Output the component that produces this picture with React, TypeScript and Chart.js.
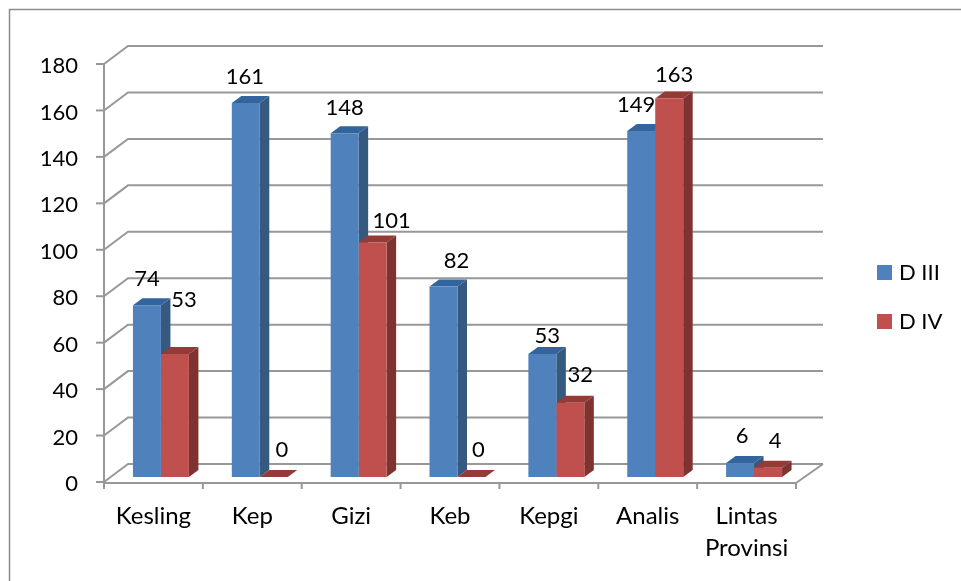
import React, { useEffect, useRef } from "react";
import { Chart, registerables } from "chart.js";

Chart.register(...registerables);

const categories = ["Kesling", "Kep", "Gizi", "Keb", "Kepgi", "Analis", ["Lintas", "Provinsi"]];
const d3Values = [74, 161, 148, 82, 53, 149, 6];
const d4Values = [53, 0, 101, 0, 32, 163, 4];
const seriesNames = ["D III", "D IV"];

const FONT = "Lato, 'Open Sans', sans-serif";
const FONT_SIZE = 22;
const CATEGORY_FONT_SIZE = 24;
const FRONT = ["#4F81BD", "#C0504D"];
const SIDE = ["#36597F", "#7E3331"];
const TOP = ["#34649C", "#943A37"];
const GRID = "#989898";

// label nudges relative to each bar's front-top centre
const labelNudge = [
  [[0, -26], [-1, -26], [0, -25], [13, -26], [5, -18], [-5, -26], [2, -27]],
  [[9, -54], [8, -27], [19, -22], [7, -27], [10, -28], [5, -24], [7, -27]],
];

const SHIFT_X = 7.5;
const SHIFT_Y = -5;
const DEPTH_X = 9.5;
const DEPTH_Y = 7;
const Y_LABEL_DROP = 2;

const poly = (ctx: CanvasRenderingContext2D, pts: number[][], fill: string) => {
  ctx.fillStyle = fill;
  ctx.beginPath();
  pts.forEach(([x, y], i) => (i ? ctx.lineTo(x, y) : ctx.moveTo(x, y)));
  ctx.closePath();
  ctx.fill();
};

const line = (ctx: CanvasRenderingContext2D, pts: number[][]) => {
  ctx.beginPath();
  pts.forEach(([x, y], i) => (i ? ctx.lineTo(x, y) : ctx.moveTo(x, y)));
  ctx.stroke();
};

const scene3d = {
  id: "scene3d",
  beforeDraw(chart: any) {
    const { ctx } = chart;
    chart.scales.y.getLabelItems().forEach((item: any) => {
      if (!item.dropped) {
        item.dropped = true;
        const [x, y] = item.options.translation;
        item.options.translation = [x, y + Y_LABEL_DROP];
      }
    });
    ctx.save();
    ctx.strokeStyle = "#8C8C8C";
    ctx.lineWidth = 1.5;
    line(ctx, [[9.5, 581], [9.5, 9.5], [961, 9.5]]);
    ctx.restore();
  },
  beforeDatasetsDraw(chart: any) {
    const { ctx, chartArea, scales } = chart;
    const { left, right, bottom } = chartArea;
    ctx.save();
    ctx.strokeStyle = GRID;
    ctx.lineWidth = 2;
    scales.y.ticks.forEach((t: any) => {
      const y = scales.y.getPixelForValue(t.value);
      line(ctx, [[left, y], [left + 24, y - 18], [right + 27, y - 18]]);
      line(ctx, [[left - 8, y], [left, y]]);
    });
    line(ctx, [[right, bottom + 1], [right + 27, bottom - 18]]);
    line(ctx, [[left, scales.y.top], [left, bottom + 1]]);
    line(ctx, [[left - 1, bottom + 1], [right, bottom + 1]]);
    categories.forEach((_, i) => {
      const half = (scales.x.getPixelForValue(1) - scales.x.getPixelForValue(0)) / 2;
      const x = scales.x.getPixelForValue(i) - half;
      line(ctx, [[x, bottom + 1], [x, bottom + 7]]);
    });
    line(ctx, [[right, bottom + 1], [right, bottom + 7]]);

    ctx.translate(SHIFT_X, SHIFT_Y);
    [0, 1].forEach((di) => {
      chart.getDatasetMeta(di).data.forEach((bar: any) => {
        const { x, y, base, width } = bar.getProps(["x", "y", "base", "width"], true);
        const x0 = x - width / 2;
        const x1 = x + width / 2;
        poly(ctx, [[x1, y], [x1 + DEPTH_X, y - DEPTH_Y], [x1 + DEPTH_X, base - DEPTH_Y], [x1, base]], SIDE[di]);
        poly(ctx, [[x0, y], [x1, y], [x1 + DEPTH_X, y - DEPTH_Y], [x0 + DEPTH_X, y - DEPTH_Y]], TOP[di]);
      });
    });
    ctx.restore();
  },
  beforeDatasetDraw(chart: any) {
    chart.ctx.save();
    chart.ctx.translate(SHIFT_X, SHIFT_Y);
  },
  afterDatasetDraw(chart: any) {
    chart.ctx.restore();
  },
  afterDatasetsDraw(chart: any) {
    const { ctx } = chart;
    ctx.save();
    ctx.fillStyle = "#000000";
    ctx.font = `${FONT_SIZE}px ${FONT}`;
    ctx.textAlign = "center";
    ctx.textBaseline = "middle";
    [0, 1].forEach((di) => {
      const values = chart.data.datasets[di].data;
      chart.getDatasetMeta(di).data.forEach((bar: any, i: number) => {
        const { x, y } = bar.getProps(["x", "y"], true);
        const [dx, dy] = labelNudge[di][i];
        ctx.fillText(String(values[i]), x + SHIFT_X + dx, y + SHIFT_Y + dy);
      });
    });
    // legend
    ctx.textAlign = "left";
    seriesNames.forEach((name, i) => {
      const top = 265 + i * 49;
      ctx.fillStyle = FRONT[i];
      ctx.fillRect(877, top, 15, 15);
      ctx.fillStyle = "#000000";
      ctx.fillText(name, 899, top + 8);
    });
    ctx.restore();
  },
};

export default function App() {
  const ref = useRef<HTMLCanvasElement>(null);
  useEffect(() => {
    document.body.style.margin = "0";
    const chart = new Chart(ref.current as HTMLCanvasElement, {
      type: "bar",
      data: {
        labels: categories as any,
        datasets: [
          { label: seriesNames[0], data: d3Values, backgroundColor: FRONT[0], borderWidth: 0, clip: false as any },
          { label: seriesNames[1], data: d4Values, backgroundColor: FRONT[1], borderWidth: 0, clip: false as any },
        ],
      },
      options: {
        animation: false,
        responsive: false,
        maintainAspectRatio: false,
        layout: { padding: { top: 64, right: 165, bottom: 0, left: 0 } },
        plugins: { legend: { display: false }, tooltip: { enabled: false } },
        datasets: { bar: { categoryPercentage: 0.566, barPercentage: 1 } },
        scales: {
          x: {
            grid: { display: false, drawTicks: false },
            border: { display: false },
            afterFit: (s: any) => { s.height = 99; },
            ticks: {
              autoSkip: false,
              maxRotation: 0,
              minRotation: 0,
              padding: 18,
              color: "#000000",
              font: { family: FONT, size: CATEGORY_FONT_SIZE, lineHeight: 1.33 },
            },
          },
          y: {
            min: 0,
            max: 180,
            grid: { display: false, drawTicks: false },
            border: { display: false },
            afterFit: (s: any) => { s.width = 104; },
            ticks: {
              stepSize: 20,
              padding: 26,
              color: "#000000",
              font: { family: FONT, size: FONT_SIZE },
            },
          },
        },
      },
      plugins: [scene3d as any],
    });
    return () => chart.destroy();
  }, []);
  return (
    <div style={{ position: "absolute", left: 0, top: 0, width: 961, height: 581, overflow: "hidden", background: "#fff" }}>
      <canvas ref={ref} width={961} height={581} style={{ display: "block" }} />
    </div>
  );
}
